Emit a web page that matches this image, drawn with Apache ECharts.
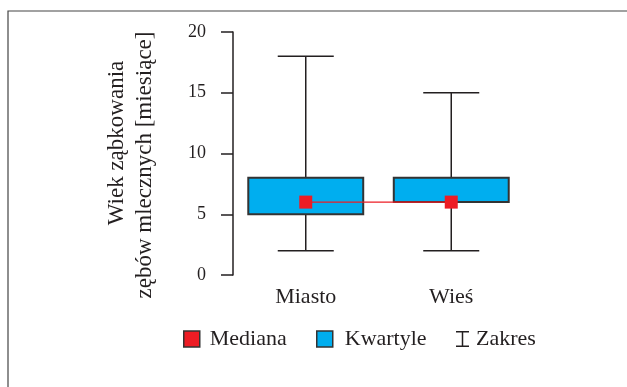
<!DOCTYPE html>
<html>
<head>
<meta charset="utf-8">
<script src="https://cdn.jsdelivr.net/npm/echarts@6/dist/echarts.min.js"></script>
<style>
html,body{margin:0;padding:0;background:#fff;}
#chart{width:627px;height:387px;}
</style>
</head>
<body>
<div id="chart"></div>
<script>
// Data
var categories = ['Miasto', 'Wieś'];
var minValues = [2, 2];
var q1Values = [5, 6];
var medianValues = [6, 6];
var q3Values = [8, 8];
var maxValues = [18, 15];
var yTicks = [0, 5, 10, 15, 20];
var yTitleLine1 = 'Wiek ząbkowania';
var yTitleLine2 = 'zębów mlecznych [miesiące]';
var legendNames = ['Mediana', 'Kwartyle', 'Zakres'];

var FONT = '"Liberation Serif", "DejaVu Serif", serif';
var INK = '#231f20';
var BLUE = '#00aeef';
var RED = '#ed1c24';

var rangeData = categories.map(function (c, i) { return [i, minValues[i], maxValues[i]]; });
var boxData = categories.map(function (c, i) { return [i, q1Values[i], q3Values[i]]; });

var chart = echarts.init(document.getElementById('chart'), null, {renderer: 'canvas'});

function legendItem(name, left, iconOpts, textPad) {
  return {
    left: left, top: 323, orient: 'horizontal',
    itemWidth: iconOpts.w, itemHeight: iconOpts.h,
    data: [{name: name, icon: iconOpts.icon, itemStyle: iconOpts.style}],
    textStyle: {fontFamily: FONT, fontSize: 22, color: INK, padding: [0, 0, 0, textPad]},
    selectedMode: false
  };
}

var option = {
  animation: false,
  backgroundColor: '#fff',
  grid: {left: 233, right: 103, top: 32, bottom: 112, containLabel: false},
  xAxis: {
    type: 'category',
    data: categories,
    boundaryGap: true,
    axisLine: {show: false},
    axisTick: {show: false},
    axisLabel: {fontFamily: FONT, fontSize: 22, color: INK, margin: 11},
    splitLine: {show: false}
  },
  yAxis: {
    type: 'value',
    min: yTicks[0], max: yTicks[yTicks.length - 1], interval: 5,
    axisLine: {show: true, lineStyle: {color: INK, width: 1.5}},
    axisTick: {show: true, inside: false, length: 12, lineStyle: {color: INK, width: 1.5}},
    axisLabel: {fontFamily: FONT, fontSize: 18, color: INK, margin: 27},
    splitLine: {show: false}
  },
  legend: [
    legendItem(legendNames[0], 178, {w: 16, h: 16, icon: 'rect', style: {color: RED, borderColor: '#333', borderWidth: 1.5}}, 5),
    legendItem(legendNames[1], 311, {w: 16, h: 16, icon: 'rect', style: {color: BLUE, borderColor: '#333', borderWidth: 1.5}}, 7),
    legendItem(legendNames[2], 451, {w: 13, h: 17, icon: 'path://M0,0H14V1.6H7.8V15.4H14V17H0V15.4H6.2V1.6H0Z', style: {color: INK, borderWidth: 0}}, 2)
  ],
  graphic: [
    {type: 'rect', shape: {x: 8, y: 11, width: 640, height: 400}, style: {fill: 'none', stroke: '#444', lineWidth: 1.2}, silent: true},
    {type: 'text', x: 117, y: 143, rotation: Math.PI / 2,
      style: {text: yTitleLine1, font: '23px ' + FONT, fill: INK, textAlign: 'center', textVerticalAlign: 'middle'}},
    {type: 'text', x: 145, y: 165, rotation: Math.PI / 2,
      style: {text: yTitleLine2, font: '23px ' + FONT, fill: INK, textAlign: 'center', textVerticalAlign: 'middle'}}
  ],
  series: [
    {
      name: legendNames[2],
      type: 'custom',
      data: rangeData,
      itemStyle: {color: INK},
      z: 2,
      renderItem: function (params, api) {
        var c = api.value(0);
        var lo = api.coord([c, api.value(1)]);
        var hi = api.coord([c, api.value(2)]);
        var band = api.size([1, 0])[0];
        var half = band * 0.385 / 2;
        var st = {stroke: INK, lineWidth: 1.5};
        return {type: 'group', children: [
          {type: 'line', shape: {x1: lo[0], y1: lo[1], x2: hi[0], y2: hi[1]}, style: st},
          {type: 'line', shape: {x1: lo[0] - half, y1: lo[1], x2: lo[0] + half, y2: lo[1]}, style: st},
          {type: 'line', shape: {x1: hi[0] - half, y1: hi[1], x2: hi[0] + half, y2: hi[1]}, style: st}
        ]};
      }
    },
    {
      name: legendNames[1],
      type: 'custom',
      data: boxData,
      itemStyle: {color: BLUE},
      z: 3,
      renderItem: function (params, api) {
        var c = api.value(0);
        var a = api.coord([c, api.value(1)]);
        var b = api.coord([c, api.value(2)]);
        var band = api.size([1, 0])[0];
        var w = band * 0.79;
        return {type: 'rect', shape: {x: a[0] - w / 2, y: b[1], width: w, height: a[1] - b[1]},
          style: {fill: BLUE, stroke: '#333', lineWidth: 2}};
      }
    },
    {
      name: legendNames[0],
      type: 'line',
      data: medianValues,
      symbol: 'rect',
      symbolSize: 13,
      itemStyle: {color: RED},
      lineStyle: {color: RED, width: 1.2},
      z: 4
    }
  ]
};
chart.setOption(option);
</script>
</body>
</html>
